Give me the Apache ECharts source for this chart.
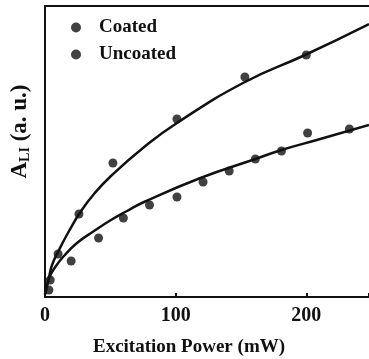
<!DOCTYPE html>
<html>
<head>
<meta charset="utf-8">
<script src="https://cdn.jsdelivr.net/npm/echarts@6/dist/echarts.min.js"></script>
<style>html,body{margin:0;padding:0;background:#fff}#c{width:369px;height:359px}</style>
</head>
<body>
<div id="c"></div>
<script>
// Measured data points [excitation power (mW), signal (a.u.)]
var coatedPts = [[4,17],[10,43],[26,83],[52,134],[101,178],[153,220],[200,242]];
var uncoatedPts = [[3,7],[20,36],[41,59],[60,79],[80,92],[101,100],[121,115],[141,126],[161,138],[181,146],[201,164],[233,168]];
// Fitted curves
var coatedFit = [[0,2],[1.5,10],[3.1,20],[5.4,32],[10.7,47],[18.4,66],[27.6,86],[37.5,103],[50.5,121],[75,149],[101,174],[151.6,214],[199,242],[248,273]];
var uncoatedFit = [[0,3],[3.1,19],[8.4,31],[14.5,41],[24.5,54],[37.5,66],[50.5,77],[62.8,86],[75.8,95],[119,119],[161,138],[181,147],[208,157],[248,172]];
var xTicks = [0,100,200];

var chart = echarts.init(document.getElementById('c'), null, {renderer:'canvas'});
var serif = '"Liberation Serif","DejaVu Serif",serif';
var ink = '#111';
chart.setOption({
  animation:false,
  backgroundColor:'#fff',
  grid:{left:45,top:6,right:0,bottom:62,show:false,outerBoundsMode:'none',containLabel:false},
  legend:{
    data:['Coated','Uncoated'],
    orient:'vertical', left:66, top:13, itemGap:8,
    icon:'circle', itemWidth:10, itemHeight:10,
    textStyle:{fontFamily:serif,fontWeight:'bold',fontSize:19,color:ink,padding:[0,0,0,13]}
  },
  xAxis:[{
    type:'value', min:0, max:248, interval:100,
    name:'Excitation Power (mW)', nameLocation:'middle', nameGap:41,
    nameTextStyle:{fontFamily:serif,fontWeight:'bold',fontSize:19,color:ink,padding:[0,36,0,0]},
    axisLine:{show:true,lineStyle:{color:ink,width:2}},
    axisTick:{show:true,inside:true,length:4,lineStyle:{color:ink,width:2}},
    axisLabel:{fontFamily:serif,fontWeight:'bold',fontSize:20,color:ink,margin:9,
      formatter:function(v){return xTicks.indexOf(v)>=0?String(v):'';}},
    splitLine:{show:false}
  },{
    type:'value', position:'top', min:0, max:248,
    axisLine:{show:true,lineStyle:{color:ink,width:2}},
    axisTick:{show:false}, axisLabel:{show:false}, splitLine:{show:false}
  }],
  yAxis:{
    type:'value', min:0, max:291,
    name:'{a|A}{s|LI}{a| (a. u.)}', nameLocation:'middle', nameGap:13, nameRotate:90,
    nameTextStyle:{padding:[0,0,0,40],
      rich:{a:{fontFamily:serif,fontWeight:'bold',fontSize:23,color:ink},
            s:{fontFamily:serif,fontWeight:'bold',fontSize:14,color:ink,padding:[10,0,0,0]}}},
    axisLine:{show:true,lineStyle:{color:ink,width:2}},
    axisTick:{show:false}, axisLabel:{show:false}, splitLine:{show:false}
  },
  series:[
    {name:'Coated fit',type:'line',data:coatedFit,smooth:0.5,showSymbol:false,lineStyle:{color:ink,width:2.5},z:2},
    {name:'Uncoated fit',type:'line',data:uncoatedFit,smooth:0.5,showSymbol:false,lineStyle:{color:ink,width:2.5},z:2},
    {name:'Coated',type:'scatter',data:coatedPts,symbol:'circle',symbolSize:9,itemStyle:{color:ink},z:3},
    {name:'Uncoated',type:'scatter',data:uncoatedPts,symbol:'circle',symbolSize:9,itemStyle:{color:ink},z:3}
  ]
});
</script>
</body>
</html>
